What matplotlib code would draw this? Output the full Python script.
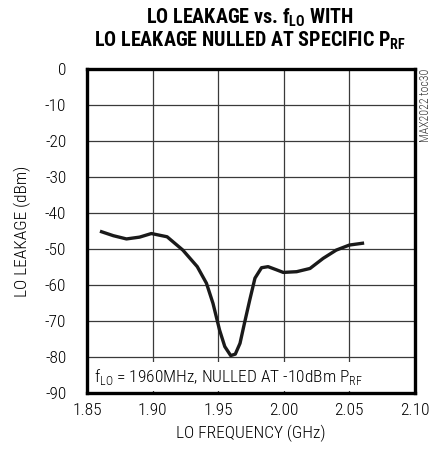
import matplotlib
matplotlib.use("Agg")
import matplotlib.pyplot as plt

# LO leakage vs LO frequency
freq_ghz = [1.861, 1.870, 1.880, 1.890, 1.899, 1.911, 1.923, 1.934, 1.941, 1.946,
            1.951, 1.955, 1.9595, 1.963, 1.9666, 1.970, 1.974, 1.978, 1.983, 1.988,
            1.9946, 1.9996, 2.0098, 2.020, 2.030, 2.040, 2.050, 2.060]
leak_dbm = [-45.2, -46.3, -47.2, -46.7, -45.7, -46.6, -50.3, -54.9, -59.5, -65.1,
            -72.5, -77.1, -79.6, -79.2, -76.2, -70.6, -64.2, -58.1, -55.2, -54.9,
            -55.8, -56.5, -56.3, -55.4, -52.6, -50.3, -48.9, -48.4]

xticks = [1.85, 1.90, 1.95, 2.00, 2.05, 2.10]
yticks = [0, -10, -20, -30, -40, -50, -60, -70, -80, -90]

plt.rcParams["font.family"] = ["Roboto Condensed", "DejaVu Sans"]
plt.rcParams["font.weight"] = "light"
plt.rcParams["mathtext.fontset"] = "custom"
plt.rcParams["mathtext.rm"] = "Roboto Condensed:light"
plt.rcParams["mathtext.bf"] = "Roboto Condensed:bold"

fig = plt.figure(figsize=(4.4, 4.57), dpi=100)
ax = fig.add_axes([0.198, 0.140, 0.745, 0.709])

ax.plot(freq_ghz, leak_dbm, color="#1a1a1a", lw=2.4, zorder=3)

ax.set_xlim(1.85, 2.10)
ax.set_ylim(-90, 0)
ax.set_xticks(xticks)
ax.set_xticklabels([f"{t:.2f}" for t in xticks], fontweight="light")
ax.set_yticks(yticks)
ax.set_yticklabels([str(t) for t in yticks], fontweight="light")
ax.tick_params(length=0, labelsize=12.5, pad=15)
ax.tick_params(axis="x", pad=7)
ax.grid(True, color="#3a3a3a", lw=0.9, zorder=1)
for s in ax.spines.values():
    s.set_linewidth(2.4)
    s.set_zorder(5)

ax.set_xlabel("LO FREQUENCY (GHz)", fontsize=12.5, labelpad=5, fontweight="light")
ax.set_ylabel("LO LEAKAGE (dBm)", fontsize=12.5, labelpad=10, fontweight="light")

ax.text(1.8555, -88.2, r"f$_{\mathrm{LO}}$ = 1960MHz, NULLED AT -10dBm P$_{\mathrm{RF}}$",
        fontsize=12.5, va="bottom", ha="left", zorder=4, fontweight="light",
        bbox=dict(facecolor="white", edgecolor="none", pad=3))

fig.text(0.568, 0.962, r"LO LEAKAGE vs. f$_{\mathbf{LO}}$ WITH", fontsize=14.5,
         fontweight="heavy", ha="center", va="center")
fig.text(0.568, 0.911, r"LO LEAKAGE NULLED AT SPECIFIC P$_{\mathbf{RF}}$", fontsize=14.5,
         fontweight="heavy", ha="center", va="center")

fig.text(0.966, 0.77, "MAX2022 toc30", fontsize=8.5, rotation=90,
         ha="center", va="center", color="#333333")

fig.savefig("out.png", dpi=100)
